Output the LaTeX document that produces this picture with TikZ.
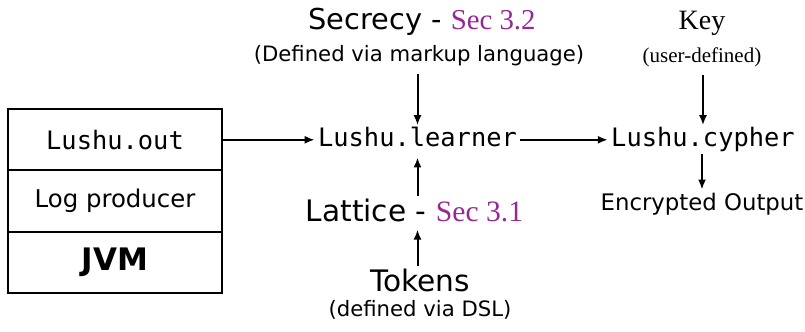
\documentclass[tikz,border=0pt]{standalone}
\usepackage{fontspec}
\setmainfont{DejaVu Sans}
\setmonofont{DejaVu Sans Mono}
\newfontfamily\secfont{Liberation Serif}
\usepackage{xcolor}
\usetikzlibrary{shapes, arrows.meta, positioning}
\definecolor{secpurple}{RGB}{150,40,150}
\newcommand{\secref}[1]{{\secfont\color{secpurple}#1}}

\begin{document}
\begin{tikzpicture}[auto, inner sep=1.5pt,
            layer/.style={draw, rectangle, line width=1pt, minimum height=30.67pt, minimum width=107pt, font=\fontsize{12.2}{14}\selectfont},
            code/.style={font=\ttfamily\fontsize{12.7}{14}\selectfont, inner ysep=1pt, text height=9.7pt, text depth=2.5pt},
            title/.style={font=\fontsize{14.4}{16}\selectfont},
            note/.style={font=\fontsize{10.6}{12}\selectfont},
            arrow/.style={-{Latex[length=5pt, width=4pt]}, line width=1pt}]

            \useasboundingbox (0,0) rectangle (402.5pt,-166pt);

            \node[code] (learner) at (208.75pt,-69.9pt) {Lushu.learner};
            \node[code, right of=learner, node distance=142.75pt] (cypher) {Lushu.cypher};
            \node[layer, left of=learner, node distance=151.25pt] (out) {\ttfamily\fontsize{12.7}{14}\selectfont Lushu.out};
            \node[layer, below of=out, node distance=30.67pt] (log) {Log producer};
            \node[layer, below of=log, node distance=30.67pt, font=\bfseries\fontsize{15.5}{17}\selectfont] (jvm) {JVM};

            \node[note, above of=learner, node distance=42pt, xshift=0.75pt] (defined) {(Defined via markup language)};
            \node[title, above of=defined, node distance=17pt, xshift=1.5pt] (secrecy) {Secrecy - \secref{Sec 3.2}};
            \node[title, below of=learner, node distance=35.45pt, xshift=-1.5pt, font=\fontsize{14.8}{17}\selectfont] (lattice) {Lattice - \secref{Sec 3.1}};
            \node[title, below of=lattice, node distance=35pt, xshift=2.75pt, font=\fontsize{14.8}{17}\selectfont] (tokens) {Tokens};
            \node[note, below of=tokens, node distance=14.75pt] (dsl) {(defined via DSL)};

            \node[note, above of=cypher, node distance=41pt, xshift=-0.5pt, font=\secfont\fontsize{10.5}{12}\selectfont] (user) {(user-defined)};
            \node[title, above of=user, node distance=17pt, font=\secfont\fontsize{14}{16}\selectfont] (key) {Key};
            \node[note, below of=cypher, node distance=32.1pt, xshift=-0.5pt, font=\fontsize{11.4}{13}\selectfont] (encrypted) {Encrypted Output};

            \draw[arrow] (out) -- (learner);
            \draw[arrow] (learner) -- (cypher);
            \draw[arrow, shorten <=2.5pt] (defined.south -| learner) -- (learner);
            \draw[arrow, shorten >=1.5pt] (lattice.north -| learner) -- (learner);
            \draw[arrow, shorten >=2pt] (tokens.north -| learner) -- (lattice.south -| learner);
            \draw[arrow, shorten <=2pt] (user.south -| cypher) -- (cypher);
            \draw[arrow] (cypher.south -| encrypted) -- (encrypted);
        \end{tikzpicture}
\end{document}
